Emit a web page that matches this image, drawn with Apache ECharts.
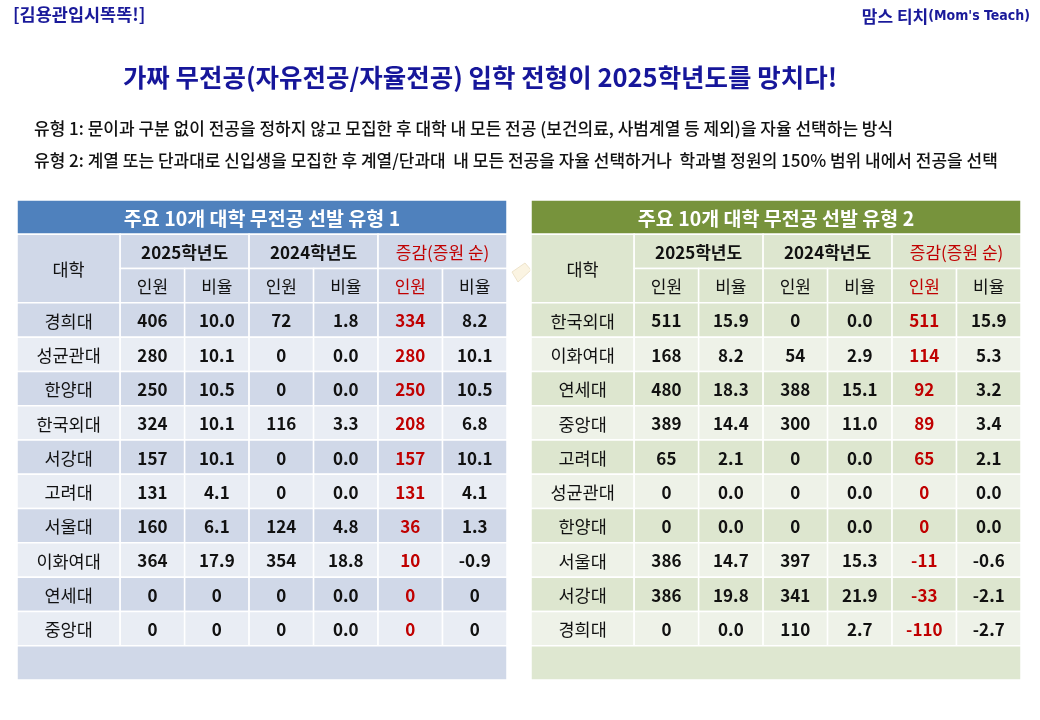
<!DOCTYPE html>
<html>
<head>
<meta charset="utf-8">
<script src="https://cdn.jsdelivr.net/npm/echarts@6/dist/echarts.min.js"></script>
<style>
html,body{margin:0;padding:0;background:#fff;}
#main{width:1040px;height:720px;}
</style>
</head>
<body>
<div id="main"></div>
<script>
// ---------- text ----------
const brandLeft = '[김용관입시똑똑!]';
const brandRight = '맘스 티치';
const brandRightSub = "(Mom's Teach)";
const mainTitle = '가짜 무전공(자유전공/자율전공) 입학 전형이 2025학년도를 망치다!';
const noteLine1 = '유형 1: 문이과 구분 없이 전공을 정하지 않고 모집한 후 대학 내 모든 전공 (보건의료, 사범계열 등 제외)을 자율 선택하는 방식';
const noteLine2 = '유형 2: 계열 또는 단과대로 신입생을 모집한 후 계열/단과대  내 모든 전공을 자율 선택하거나  학과별 정원의 150% 범위 내에서 전공을 선택';

const univHeader = '대학';
const groupLabels = ['2025학년도', '2024학년도', '증감(증원 순)'];
const subLabels = ['인원', '비율'];

// ---------- table 1 ----------
const title1 = '주요 10개 대학 무전공 선발 유형 1';
const univ1 = ['경희대', '성균관대', '한양대', '한국외대', '서강대', '고려대', '서울대', '이화여대', '연세대', '중앙대'];
const n2025_1 = ['406', '280', '250', '324', '157', '131', '160', '364', '0', '0'];
const r2025_1 = ['10.0', '10.1', '10.5', '10.1', '10.1', '4.1', '6.1', '17.9', '0', '0'];
const n2024_1 = ['72', '0', '0', '116', '0', '0', '124', '354', '0', '0'];
const r2024_1 = ['1.8', '0.0', '0.0', '3.3', '0.0', '0.0', '4.8', '18.8', '0.0', '0.0'];
const dN_1 = ['334', '280', '250', '208', '157', '131', '36', '10', '0', '0'];
const dR_1 = ['8.2', '10.1', '10.5', '6.8', '10.1', '4.1', '1.3', '-0.9', '0', '0'];

// ---------- table 2 ----------
const title2 = '주요 10개 대학 무전공 선발 유형 2';
const univ2 = ['한국외대', '이화여대', '연세대', '중앙대', '고려대', '성균관대', '한양대', '서울대', '서강대', '경희대'];
const n2025_2 = ['511', '168', '480', '389', '65', '0', '0', '386', '386', '0'];
const r2025_2 = ['15.9', '8.2', '18.3', '14.4', '2.1', '0.0', '0.0', '14.7', '19.8', '0.0'];
const n2024_2 = ['0', '54', '388', '300', '0', '0', '0', '397', '341', '110'];
const r2024_2 = ['0.0', '2.9', '15.1', '11.0', '0.0', '0.0', '0.0', '15.3', '21.9', '2.7'];
const dN_2 = ['511', '114', '92', '89', '65', '0', '0', '-11', '-33', '-110'];
const dR_2 = ['15.9', '5.3', '3.2', '3.4', '2.1', '0.0', '0.0', '-0.6', '-2.1', '-2.7'];

// ---------- style ----------
const FONT = "'Noto Sans CJK KR', 'Noto Sans', sans-serif";
const RED = '#c00000';
const colWidths = [1.6, 1, 1, 1, 1, 1, 1];
const colEdges = [0];
colWidths.forEach(w => colEdges.push(colEdges[colEdges.length - 1] + w));
const TOTAL_W = colEdges[colEdges.length - 1];
const TOTAL_ROWS = 14;

const themes = [
  { bar: '#4f81bd', head: '#d0d8e8', dark: '#d0d8e8', light: '#e9edf4', foot: '#d0d8e8' },
  { bar: '#77933c', head: '#dde6cf', dark: '#dde6cf', light: '#eef2e8', foot: '#dee7d0' }
];

function buildCells(title, univ, cols, theme) {
  const cells = [];
  const add = (c0, c1, r0, r1, text, fill, color, weight, size) =>
    cells.push({ value: [colEdges[c0], colEdges[c1], r0, r1], text, fill, color, weight, size });
  add(0, 7, 0, 1, title, theme.bar, '#ffffff', 'bold', 19.5);
  add(0, 1, 1, 3, univHeader, theme.head, '#111', 'normal', 17.5);
  groupLabels.forEach((g, i) => {
    add(1 + i * 2, 3 + i * 2, 1, 2, g, theme.head, i === 2 ? RED : '#111', i === 2 ? 'normal' : 'bold', 17);
    subLabels.forEach((s, j) => {
      add(1 + i * 2 + j, 2 + i * 2 + j, 2, 3, s, theme.head, (i === 2 && j === 0) ? RED : '#111', 'normal', 17);
    });
  });
  univ.forEach((u, r) => {
    const fill = r % 2 === 0 ? theme.dark : theme.light;
    add(0, 1, 3 + r, 4 + r, u, fill, '#111', 'normal', 17.5);
    cols.forEach((arr, c) => {
      add(1 + c, 2 + c, 3 + r, 4 + r, arr[r], fill, c === 4 ? RED : '#111', 'bold', 17);
    });
  });
  add(0, 7, 13, 14, '', theme.foot, '#111', 'normal', 16);
  return cells;
}

const cells1 = buildCells(title1, univ1, [n2025_1, r2025_1, n2024_1, r2024_1, dN_1, dR_1], themes[0]);
const cells2 = buildCells(title2, univ2, [n2025_2, r2025_2, n2024_2, r2024_2, dN_2, dR_2], themes[1]);

function makeRender(cells) {
  return function (params, api) {
    const c = cells[params.dataIndex];
    const p0 = api.coord([api.value(0), api.value(2)]);
    const p1 = api.coord([api.value(1), api.value(3)]);
    const x = Math.min(p0[0], p1[0]), y = Math.min(p0[1], p1[1]);
    const w = Math.abs(p1[0] - p0[0]), h = Math.abs(p1[1] - p0[1]);
    return {
      type: 'group',
      children: [
        { type: 'rect', shape: { x, y, width: w, height: h },
          style: { fill: c.fill, stroke: '#ffffff', lineWidth: 1.5 } },
        { type: 'text', x: x + w / 2, y: y + h / 2 + 1,
          style: { text: c.text, fill: c.color, fontFamily: FONT, fontSize: c.size,
                   fontWeight: c.weight, align: 'center', verticalAlign: 'middle' } }
      ]
    };
  };
}

const chart = echarts.init(document.getElementById('main'), null, { renderer: 'canvas' });
const gridBase = { top: 200, height: 480, width: 490 };
chart.setOption({
  backgroundColor: '#ffffff',
  animation: false,
  title: [
    { text: brandLeft, left: 13, top: 6, padding: 0,
      textStyle: { color: '#1a1a9a', fontFamily: FONT, fontSize: 17.5, fontWeight: 'bold' } },
    { text: mainTitle, left: 480, top: 65, padding: 0, textAlign: 'center',
      textStyle: { color: '#16169a', fontFamily: FONT, fontSize: 25.5, fontWeight: 'bold' } },
    { text: noteLine1, left: 34, top: 120, padding: 0,
      textStyle: { color: '#111', fontFamily: FONT, fontSize: 17, fontWeight: 500 } },
    { text: noteLine2, left: 34, top: 152, padding: 0,
      textStyle: { color: '#111', fontFamily: FONT, fontSize: 17, fontWeight: 500 } }
  ],
  graphic: [
    { type: 'text', right: 10, top: 8,
      style: { text: '{a|' + brandRight + '}{b|' + brandRightSub + '}',
        rich: { a: { fontFamily: FONT, fontSize: 17, fontWeight: 'bold', fill: '#1a1a9a' },
                b: { fontFamily: "'Liberation Sans Narrow', 'DejaVu Sans Condensed', sans-serif", fontSize: 14, fontWeight: 'bold', fill: '#1a1a9a' } } } },
    { type: 'polygon', shape: { points: [[512, 272], [525, 263], [531, 270], [518, 282]] },
      style: { fill: '#fbf4e2', stroke: '#eee4cc', lineWidth: 1 } }
  ],
  grid: [
    Object.assign({ left: 17 }, gridBase),
    Object.assign({ left: 531 }, gridBase)
  ],
  xAxis: [0, 1].map(i => ({ type: 'value', gridIndex: i, min: 0, max: TOTAL_W, show: false })),
  yAxis: [0, 1].map(i => ({ type: 'value', gridIndex: i, min: 0, max: TOTAL_ROWS, inverse: true, show: false })),
  series: [
    { type: 'custom', xAxisIndex: 0, yAxisIndex: 0, renderItem: makeRender(cells1),
      data: cells1.map(c => c.value), silent: true },
    { type: 'custom', xAxisIndex: 1, yAxisIndex: 1, renderItem: makeRender(cells2),
      data: cells2.map(c => c.value), silent: true }
  ]
});
</script>
</body>
</html>
